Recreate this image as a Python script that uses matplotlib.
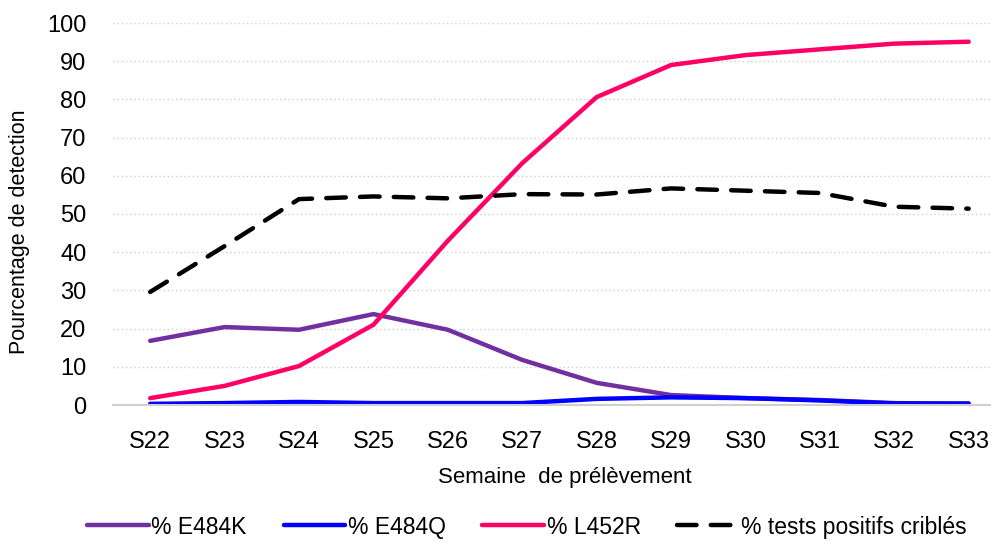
import matplotlib.pyplot as plt
from matplotlib import font_manager

plt.switch_backend('Agg')

# fonte étroite type Arial Narrow si dispo
names = {f.name for f in font_manager.fontManager.ttflist}
FONT = 'Liberation Sans Narrow' if 'Liberation Sans Narrow' in names else 'Liberation Sans'
plt.rcParams['font.family'] = [FONT, 'DejaVu Sans']

semaines = ['S22', 'S23', 'S24', 'S25', 'S26', 'S27', 'S28', 'S29', 'S30', 'S31', 'S32', 'S33']
e484k = [16.8, 20.4, 19.7, 23.8, 19.7, 11.8, 5.8, 2.6, 1.8, 1.3, 0.5, 0.3]
e484q = [0.3, 0.5, 0.8, 0.5, 0.5, 0.5, 1.6, 2.0, 1.8, 1.2, 0.4, 0.4]
l452r = [1.8, 5.0, 10.2, 21.0, 43.0, 63.3, 80.6, 89.0, 91.6, 93.1, 94.6, 95.1]
criblés = [29.6, 41.6, 53.9, 54.6, 54.1, 55.2, 55.1, 56.7, 56.1, 55.5, 51.9, 51.4]

fig = plt.figure(figsize=(9.91, 5.45), dpi=100)
ax = fig.add_axes([113 / 991, 1 - 405 / 545, 878 / 991, 382 / 545])

x = range(len(semaines))
lw = 3.2
ax.plot(x, e484k, color='#7030A0', lw=lw, solid_capstyle='round', label='% E484K')
ax.plot(x, e484q, color='#0000FF', lw=lw, solid_capstyle='round', label='% E484Q')
ax.plot(x, l452r, color='#FF0066', lw=lw, solid_capstyle='round', label='% L452R')
ax.plot(x, criblés, color='black', lw=lw, dashes=(4.4, 3.2), dash_capstyle='round',
        label='% tests positifs criblés')

ax.set_xlim(-0.5, 11.3)
ax.set_ylim(0, 100)
ax.set_yticks(range(0, 101, 10))
ax.set_xticks(list(x))
ax.set_xticklabels(semaines)
ax.tick_params(length=0, labelsize=17, colors='black')
ax.tick_params(axis='y', pad=19)
ax.tick_params(axis='x', pad=19)
ax.grid(axis='y', color='#d0d0d0', linestyle=(0, (1, 2)), lw=1)
ax.set_axisbelow(True)
for s in ['top', 'right', 'left']:
    ax.spines[s].set_visible(False)
ax.spines['bottom'].set_color('#d0d0d0')
ax.spines['bottom'].set_linewidth(1.5)

ax.set_xlabel('Semaine  de prélèvement', fontsize=16)
ax.xaxis.set_label_coords(0.515, -0.163)
ax.set_ylabel('Pourcentage de detection', fontsize=15.5)
ax.yaxis.set_label_coords(-0.094, 0.453)

fig.legend(loc='center', bbox_to_anchor=(0.532, 0.033), ncol=4, frameon=False,
           fontsize=16.5, handlelength=2.7, handletextpad=0.1, columnspacing=1.6)

plt.savefig('out.png', dpi=100)
plt.close()
